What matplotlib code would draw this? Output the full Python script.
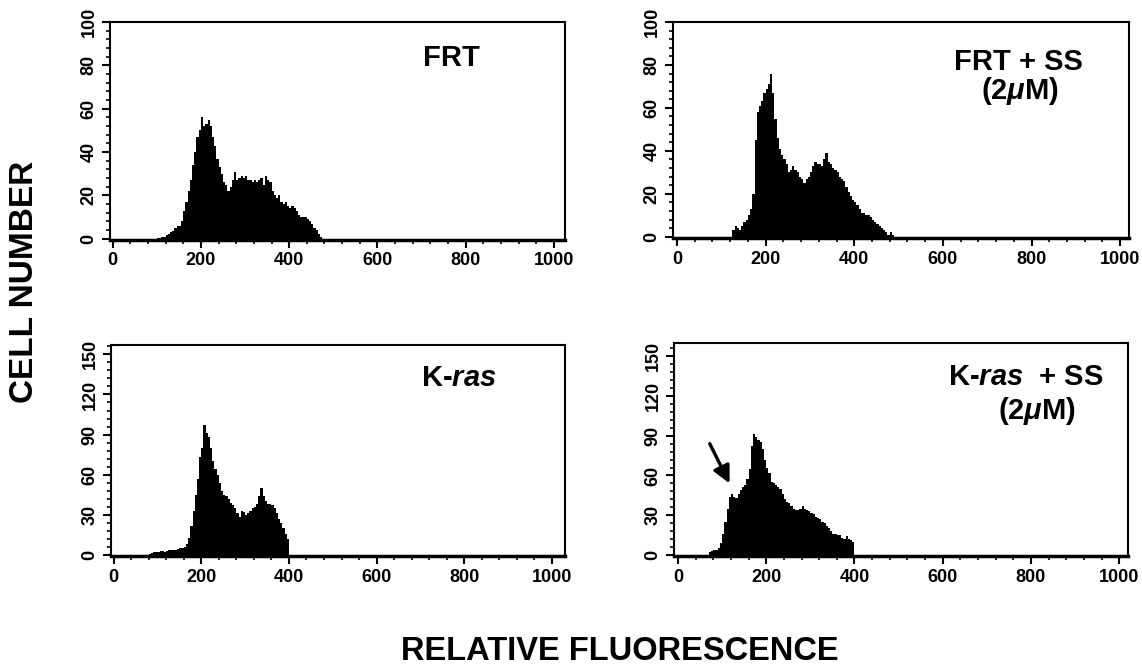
import numpy as np
import matplotlib
matplotlib.use("Agg")
import matplotlib.pyplot as plt
from matplotlib.ticker import MultipleLocator

plt.rcParams['font.family'] = ['Liberation Sans', 'DejaVu Sans']
plt.rcParams['mathtext.fontset'] = 'custom'
plt.rcParams['mathtext.rm'] = 'Liberation Sans:bold'
plt.rcParams['mathtext.it'] = 'Liberation Sans:italic:bold'

BIN = 5  # channel width (relative fluorescence units)

# FRT
frt_start = 100
frt_counts = [0.5, 0.5, 1, 1, 1.5, 2, 3, 3.5, 5, 6, 6, 8, 13, 17, 22, 27, 34, 40, 47, 50,
              56, 52, 53, 55, 52, 47, 43, 37, 33, 30, 26, 25, 22, 24, 27, 31, 27, 28, 29, 28,
              29, 27, 27, 26, 27, 26, 27, 28, 25, 29, 27, 26, 22, 20, 19, 20, 17, 16, 17, 15,
              14, 15, 14, 13, 11, 10, 10, 10, 9, 8, 7, 5, 4, 2, 1]

# FRT + SS (2uM)
frtss_start = 120
frtss_counts = [0, 3, 5, 4, 3, 5, 7, 8, 10, 13, 20, 45, 58, 61, 63, 67, 69, 71, 76, 67,
                55, 46, 41, 38, 36, 34, 30, 31, 33, 31, 30, 28, 27, 25, 27, 28, 30, 33, 35, 34,
                34, 33, 36, 39, 35, 34, 32, 31, 30, 28, 27, 26, 23, 21, 19, 17, 16, 15, 13, 11,
                11, 10, 10, 9, 8, 7, 6, 5, 4, 3, 2, 1, 2, 1]

# K-ras
kras_start = 80
kras_counts = [1, 1.5, 2, 2, 2, 3, 3, 2.5, 3, 4, 3.5, 3.5, 4, 4.5, 5, 5, 6, 8, 13, 22,
               33, 45, 57, 73, 80, 97, 91, 88, 80, 70, 64, 60, 54, 48, 45, 44, 42, 39, 37, 35,
               31, 28, 33, 32, 30, 31, 33, 35, 36, 38, 44, 50, 44, 40, 38, 38, 37, 35, 31, 27,
               24, 20, 16, 12]

# K-ras + SS (2uM)
krasss_start = 65
krasss_counts = [0, 2, 3, 3.5, 4, 5, 9, 16, 25, 35, 44, 46, 44, 43, 46, 49, 51, 53, 57, 65,
                 82, 91, 89, 87, 85, 80, 72, 66, 62, 55, 54, 53, 51, 50, 46, 42, 40, 39, 37, 35,
                 34, 34, 35, 37, 35, 34, 33, 32, 31, 29, 28, 27, 25, 24, 22, 20, 18, 16, 16, 15,
                 15, 13, 12, 14, 12, 11, 10]

x_ticks = [0, 200, 400, 600, 800, 1000]
y_ticks_top = [0, 20, 40, 60, 80, 100]
y_ticks_bot = [0, 30, 60, 90, 120, 150]

fig = plt.figure(figsize=(11.42, 6.70), dpi=100)
W, H = 1142, 670


def make_ax(left, right, top, bottom):
    return fig.add_axes([left / W, 1 - bottom / H, (right - left) / W, (bottom - top) / H])


panels = [
    (make_ax(110, 565, 22, 240), frt_start, frt_counts, (-6, 1025), (-0.6, 100), y_ticks_top, 4),
    (make_ax(673, 1129, 22, 238), frtss_start, frtss_counts, (-9, 1020), (-0.6, 100), y_ticks_top, 4),
    (make_ax(111, 565, 345, 556), kras_start, kras_counts, (-6, 1030), (-0.8, 157), y_ticks_bot, 6),
    (make_ax(674, 1128, 343, 556), krasss_start, krasss_counts, (-9, 1020), (-0.8, 160), y_ticks_bot, 6),
]

tick_font = dict(family=['Liberation Sans Narrow', 'Liberation Sans', 'DejaVu Sans'],
                 weight='bold', size=13)

for ax, start, counts, xl, yl, yt, yminor in panels:
    edges = start + BIN * np.arange(len(counts) + 1)
    ax.stairs(counts, edges, fill=True, color='black', baseline=0)
    ax.set_xlim(*xl)
    ax.set_ylim(*yl)
    ax.set_xticks(x_ticks)
    ax.set_yticks(yt)
    ax.xaxis.set_minor_locator(MultipleLocator(40))
    ax.yaxis.set_minor_locator(MultipleLocator(yminor))
    ax.tick_params(axis='both', which='major', direction='out', length=6, width=1.5, pad=3)
    ax.tick_params(axis='both', which='minor', direction='out', length=3, width=1.2)
    ax.set_xticklabels([str(t) for t in x_ticks], **tick_font)
    ax.set_yticklabels([str(t) for t in yt], rotation=90, va='center', **tick_font)
    for side in ['top', 'right', 'left']:
        ax.spines[side].set_linewidth(1.5)
    ax.spines['bottom'].set_linewidth(2.5)

label_font = dict(weight='bold', size=21, ha='center', va='center')
ax1, ax2, ax3, ax4 = [p[0] for p in panels]
ax1.text(0.75, 0.837, 'FRT', transform=ax1.transAxes, **label_font)
ax2.text(0.757, 0.815, 'FRT + SS', transform=ax2.transAxes, **label_font)
ax2.text(0.761, 0.68, r'(2$\mu$M)', transform=ax2.transAxes, **label_font)
ax3.text(0.766, 0.844, r'K-$\it{ras}$', transform=ax3.transAxes, **label_font)
ax4.text(0.775, 0.84, r'K-$\it{ras}$  + SS', transform=ax4.transAxes, **label_font)
ax4.text(0.80, 0.68, r'(2$\mu$M)', transform=ax4.transAxes, **label_font)

# arrow marking the sub-G1 shoulder
ax4.annotate('', xy=(117, 54), xytext=(72, 84),
             arrowprops=dict(arrowstyle='-|>', color='black', lw=2.4,
                             mutation_scale=26, shrinkA=0, shrinkB=0))

fig.text(25 / W, 1 - 282 / H, 'CELL NUMBER', rotation=90, ha='center', va='center',
         weight='bold', size=24)
fig.text(620 / W, 1 - 652 / H, 'RELATIVE FLUORESCENCE', ha='center', va='center',
         weight='bold', size=23.5)

fig.savefig('out.png', dpi=100)
